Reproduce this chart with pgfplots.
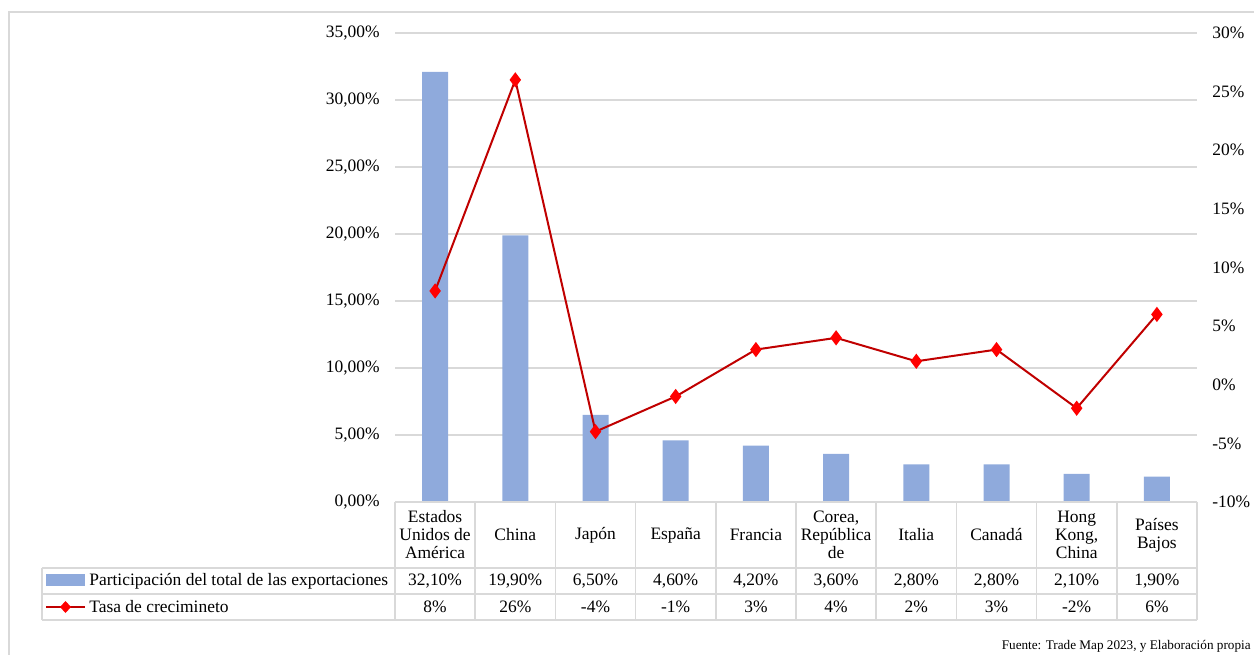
\documentclass[border=0pt]{standalone}
\usepackage{fontspec}
\setmainfont{Liberation Serif}
\usepackage{pgfplots}
\pgfplotsset{compat=1.18}

\definecolor{barblue}{HTML}{8FAADC}
\definecolor{linered}{HTML}{C00000}
\definecolor{mkred}{HTML}{FF0000}
\definecolor{gridgray}{HTML}{D9D9D9}
\newcommand{\tf}{\fontsize{8.72}{9}\selectfont}

\begin{document}
\begin{tikzpicture}
\useasboundingbox (0,0) rectangle (627pt,327pt);

% left axis: share of exports
\begin{axis}[
    at={(197.5pt,76pt)}, anchor=south west,
    scale only axis, width=401pt, height=234.5pt,
    xmin=-0.5, xmax=9.5, ymin=0, ymax=35,
    xtick=\empty, ytick={0,5,...,35},
    axis line style={draw=none}, major tick length=0pt,
    ymajorgrids, grid style={draw=gridgray, line width=0.75pt},
    /pgf/number format/assume math mode=true,
    yticklabel={\pgfmathprintnumber[fixed,fixed zerofill,precision=2,use comma]{\tick}\%},
    yticklabel style={font=\tf, anchor=east, inner sep=0pt, xshift=-7.5pt},
]
\addplot[ybar, bar width=13pt, fill=barblue, draw=none] coordinates {
    (0,32.1) (1,19.9) (2,6.5) (3,4.6) (4,4.2)
    (5,3.6) (6,2.8) (7,2.8) (8,2.1) (9,1.9)
};
\end{axis}

% right axis: growth rate
\begin{axis}[
    at={(197.5pt,76pt)}, anchor=south west,
    scale only axis, width=401pt, height=234.5pt,
    xmin=-0.5, xmax=9.5, ymin=-10, ymax=30,
    axis y line*=right, hide x axis,
    ytick={-10,-5,...,30},
    axis line style={draw=none}, major tick length=0pt,
    clip=false,
    /pgf/number format/assume math mode=true,
    yticklabel={\pgfmathprintnumber{\tick}\%},
    yticklabel style={font=\tf, anchor=west, inner sep=0pt, xshift=7.5pt},
]
\addplot[color=linered, line width=1pt, mark=diamond*, mark size=3pt,
    mark options={fill=mkred, draw=mkred}] coordinates {
    (0,8) (1,26) (2,-4) (3,-1) (4,3)
    (5,4) (6,2) (7,3) (8,-2) (9,6)
};
\end{axis}

% data table and frame (pixel coordinates, y downwards)
\begin{scope}[x=0.5pt, y=-0.5pt, shift={(0,327pt)}]
  \draw[gridgray, line width=1pt] (9,660) -- (9,12) -- (1260,12);
  \begin{scope}[gridgray, line width=0.75pt]
    \draw (395,502) -- (1197,502);
    \foreach \yy in {568,594,620} \draw (42,\yy) -- (1197,\yy);
    \draw (42,568) -- (42,620);
    \foreach \k in {0,...,10} \draw ({395+80.2*\k},502) -- ({395+80.2*\k},620);
  \end{scope}
  \foreach \lab [count=\i from 0] in {{Estados\\Unidos de\\América},China,Japón,España,Francia,{Corea,\\República\\de},Italia,Canadá,{Hong\\Kong,\\China},{Países\\Bajos}}
    \node[align=center, font=\tf, inner sep=0pt] at ({395+80.2*(\i+0.5)},535) {\lab};
  \foreach \v [count=\i from 0] in {{32,10\%},{19,90\%},{6,50\%},{4,60\%},{4,20\%},{3,60\%},{2,80\%},{2,80\%},{2,10\%},{1,90\%}}
    \node[font=\tf, inner sep=0pt] at ({395+80.2*(\i+0.5)},581) {\v};
  \foreach \v [count=\i from 0] in {8\%,26\%,-4\%,-1\%,3\%,4\%,2\%,3\%,-2\%,6\%}
    \node[font=\tf, inner sep=0pt] at ({395+80.2*(\i+0.5)},607) {\v};
  \fill[barblue] (46,574) rectangle (85,586);
  \draw[linered, line width=1pt] (46,607) -- (85,607);
  \fill[mkred] (65.5,601) -- (71,607) -- (65.5,613) -- (60,607) -- cycle;
  \node[font=\tf, anchor=west, inner sep=0pt] at (89,581) {Participación del total de las exportaciones};
  \node[font=\tf, anchor=west, inner sep=0pt] at (89,607) {Tasa de crecimineto};
  \node[font=\fontsize{6.6}{7}\selectfont, anchor=base east, inner sep=0pt] at (1251,649) {Fuente: Trade Map 2023, y Elaboración propia};
\end{scope}
\end{tikzpicture}
\end{document}
